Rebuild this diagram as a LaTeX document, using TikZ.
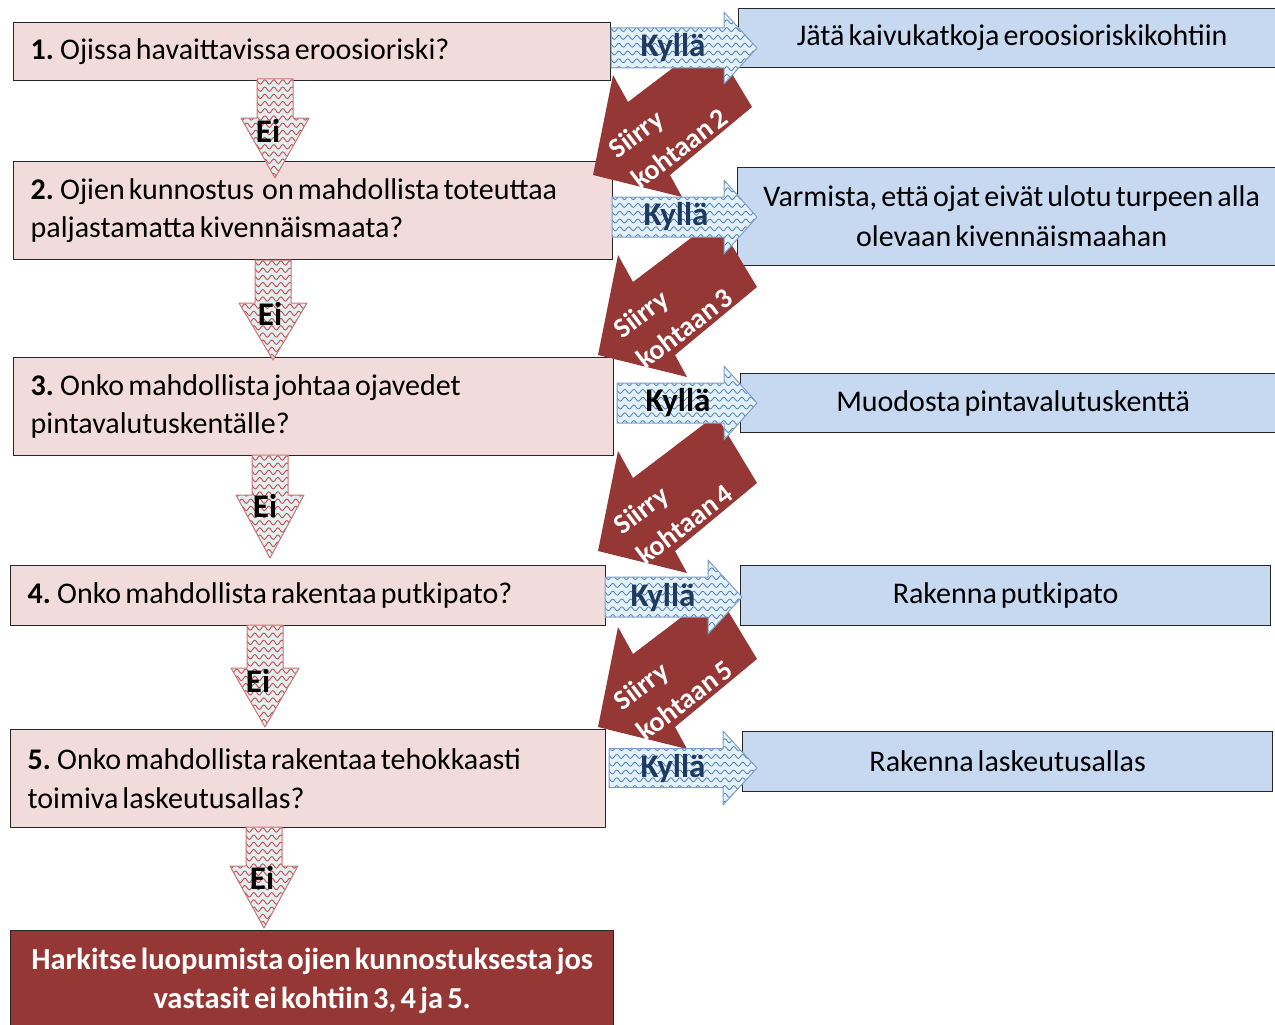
\documentclass[tikz,border=0pt]{standalone}
\usepackage{fontspec}
\setmainfont{Carlito}[WordSpace=0.6]
\usetikzlibrary{decorations.pathmorphing}
\definecolor{lpink}{HTML}{F2DCDB}
\definecolor{lblue}{HTML}{C6D9F1}
\definecolor{dred}{HTML}{953735}
\definecolor{kyfill}{HTML}{E3F0F6}
\definecolor{kywave}{HTML}{4F81BD}
\definecolor{kyedge}{HTML}{7F9FC6}
\definecolor{eifill}{HTML}{E3EEF1}
\definecolor{eiwave}{HTML}{C0504D}
\definecolor{eiedge}{HTML}{C87572}
\definecolor{kytext}{HTML}{1F3A5F}

\tikzset{
  qbox/.style={draw=black!85, line width=1.3pt, fill=lpink, anchor=north west,
    inner xsep=17pt, inner ysep=0pt, align=left, font=\fontsize{30}{38.5}\selectfont,
    execute at begin node={\spaceskip=0pt\relax\xspaceskip=0pt\relax}},
  abox/.style={draw=black!85, line width=1.3pt, fill=lblue, anchor=north west,
    inner sep=0pt, align=center, font=\fontsize{30}{40}\selectfont},
  endbox/.style={draw=black!85, line width=1.3pt, fill=dred, anchor=north west,
    inner sep=0pt, align=center, text=white, font=\bfseries\fontsize{30.5}{38.5}\selectfont},
  kywavestyle/.style={draw=kywave, line width=0.8pt, decorate,
    decoration={snake, segment length=9pt, amplitude=2pt}},
  eiwavestyle/.style={draw=eiwave, line width=0.9pt, decorate,
    decoration={snake, segment length=9pt, amplitude=2.2pt}},
  kyedgestyle/.style={draw=kyedge, line width=1pt, line join=round},
  eiedgestyle/.style={draw=eiedge, line width=1pt, line join=round},
  kylabel/.style={inner sep=0pt, text=kytext, font=\bfseries\fontsize{33}{34}\selectfont},
  eilabel/.style={inner sep=0pt, text=black, font=\bfseries\fontsize{33}{34}\selectfont},
  siirrytext/.style={inner sep=0pt, text=white, rotate=37, align=left,
    font=\bfseries\fontsize{28}{38}\selectfont},
}

% right block arrow: #1 x0, #2 xb, #3 xt, #4 cy, #5 h, #6 H
\newcommand{\kyArrow}[6]{%
  \begin{scope}
    \clip (#1,#4-#5) -- (#2,#4-#5) -- (#2,#4-#6) -- (#3,#4) -- (#2,#4+#6) -- (#2,#4+#5) -- (#1,#4+#5) -- cycle;
    \fill[kyfill] (#1-2,#4-#6-2) rectangle (#3+2,#4+#6+2);
    \foreach \k in {0,...,10} \draw[kywavestyle] (#1-4,#4-#6+2+\k*7.8) -- (#3+8,#4-#6+2+\k*7.8);
  \end{scope}
  \draw[kyedgestyle] (#1,#4-#5) -- (#2,#4-#5) -- (#2,#4-#6) -- (#3,#4) -- (#2,#4+#6) -- (#2,#4+#5) -- (#1,#4+#5) -- cycle;
}
% down block arrow: #1 cx, #2 ytop, #3 ybarb, #4 ytip, #5 h, #6 H
\newcommand{\eiArrow}[6]{%
  \begin{scope}
    \clip (#1-#5,#2) -- (#1+#5,#2) -- (#1+#5,#3) -- (#1+#6,#3) -- (#1,#4) -- (#1-#6,#3) -- (#1-#5,#3) -- cycle;
    \fill[eifill] (#1-#6-2,#2-2) rectangle (#1+#6+2,#4+2);
    \foreach \k in {0,...,14} \draw[eiwavestyle] (#1-#6-6,#2+3+\k*7.2) -- (#1+#6+8,#2+3+\k*7.2);
  \end{scope}
  \draw[eiedgestyle] (#1-#5,#2) -- (#1+#5,#2) -- (#1+#5,#3) -- (#1+#6,#3) -- (#1,#4) -- (#1-#6,#3) -- (#1-#5,#3) -- cycle;
}
% "Siirry kohtaan" arrow: #1 dx, #2 dy, #3 number
\newcommand{\siirryArrow}[3]{%
  \begin{scope}[shift={(#1,#2)}]
    \fill[dred] (598,355) -- (618,255) -- (633,282) -- (716,219) -- (757,287) -- (675,355) -- (687,377) -- cycle;
    \node[siirrytext] (s#3) at (673,313) {Siirry\\kohtaan #3};
  \end{scope}
}

\begin{document}
\begin{tikzpicture}[x=1pt, y=-1pt]
\useasboundingbox (0,0) rectangle (1275,1025);

% question boxes
\node[qbox, text width=563pt, minimum height=58pt] (q1) at (13,22)
  {\textbf{1.} Ojissa havaittavissa eroosioriski?};
\node[qbox, text width=565pt, minimum height=98pt] (q2) at (13,161)
  {\textbf{2.} Ojien kunnostus\ \ on mahdollista toteuttaa\\paljastamatta kivennäismaata?};
\node[qbox, text width=566pt, minimum height=98pt] (q3) at (13,357)
  {\textbf{3.} Onko mahdollista johtaa ojavedet\\pintavalutuskentälle?};
\node[qbox, text width=561pt, minimum height=60pt] (q4) at (10,565)
  {\textbf{4.} Onko mahdollista rakentaa putkipato?};
\node[qbox, text width=561pt, minimum height=98pt] (q5) at (10,729)
  {\textbf{5.} Onko mahdollista rakentaa tehokkaasti\\toimiva laskeutusallas?};
\node[endbox, minimum width=603pt, minimum height=100pt] (end) at (10,930)
  {Harkitse luopumista ojien kunnostuksesta jos\\vastasit ei kohtiin 3, 4 ja 5.};

% answer boxes
\node[abox, minimum width=547pt, minimum height=59pt] (a1) at (738,8)
  {Jätä kaivukatkoja eroosioriskikohtiin};
\node[abox, minimum width=548pt, minimum height=98pt] (a2) at (737,167)
  {Varmista, että ojat eivät ulotu turpeen alla\\olevaan kivennäismaahan};
\node[abox, minimum width=545pt, minimum height=59pt] (a3) at (740,373)
  {Muodosta pintavalutuskenttä};
\node[abox, minimum width=530pt, minimum height=60pt] (a4) at (740,565)
  {Rakenna putkipato};
\node[abox, minimum width=530pt, minimum height=60pt] (a5) at (742,731)
  {Rakenna laskeutusallas};

% Ei arrows
\eiArrow{275}{79}{118}{178}{18}{34}
\node[eilabel] (e1) at (268,131) {Ei};
\eiArrow{273}{260}{303}{360}{18}{34}
\node[eilabel] (e2) at (270,314) {Ei};
\eiArrow{270}{455}{495}{558}{18}{34}
\node[eilabel] (e3) at (265,506) {Ei};
\eiArrow{265}{625}{668}{727}{18}{34}
\node[eilabel] (e4) at (258,681) {Ei};
\eiArrow{264}{827}{866}{928}{18}{34}
\node[eilabel] (e5) at (262,878) {Ei};

% Siirry arrows
\siirryArrow{-5}{-180}{2}
\siirryArrow{0}{0}{3}
\siirryArrow{0}{196}{4}
\siirryArrow{0}{372}{5}

% Kyllae arrows
\kyArrow{611}{724}{757}{48}{20}{36}
\node[kylabel] (k1) at (673,48) {Kyllä};
\kyArrow{612}{724}{757}{217}{20}{37}
\node[kylabel] (k2) at (676,217) {Kyllä};
\kyArrow{617}{724}{757}{403}{20}{37}
\node[kylabel, text=black] (k3) at (678,403) {Kyllä};
\kyArrow{605}{708}{742}{597}{20}{37}
\node[kylabel] (k4) at (663,598) {Kyllä};
\kyArrow{609}{723}{757}{768}{19.5}{37}
\node[kylabel] (k5) at (673,769) {Kyllä};
\end{tikzpicture}
\end{document}
